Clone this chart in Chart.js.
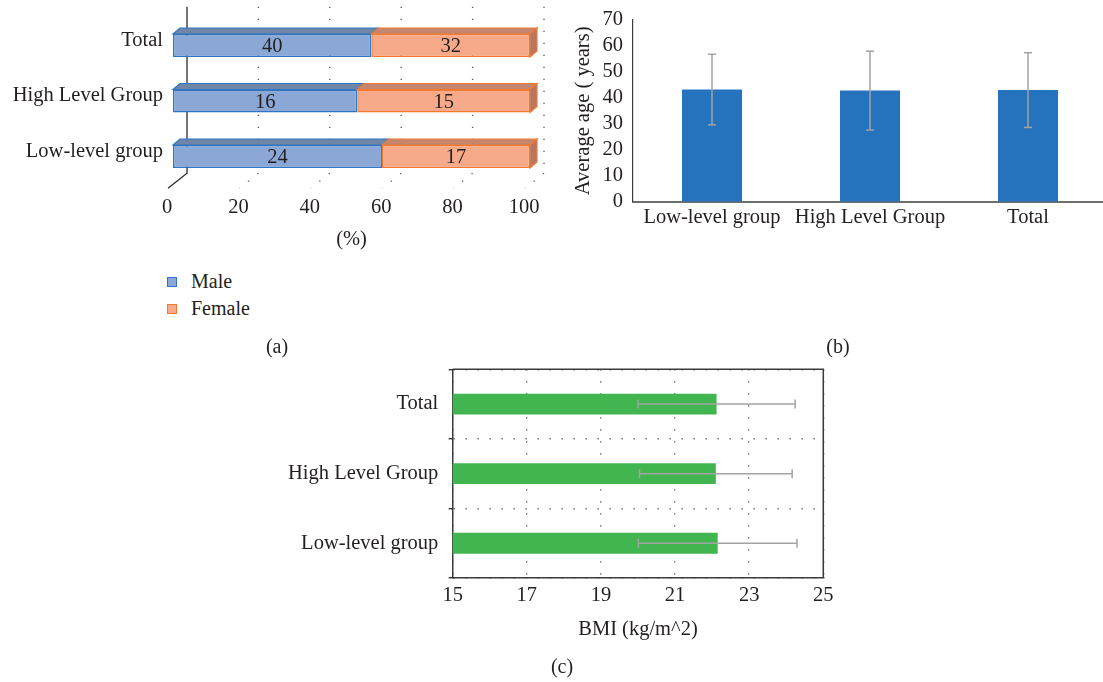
<!DOCTYPE html>
<html>
<head>
<meta charset="utf-8">
<script src="https://cdn.jsdelivr.net/npm/chart.js@4/dist/chart.umd.min.js"></script>
<style>
  html, body { margin: 0; padding: 0; background: #fff; overflow: hidden; width: 1103px; height: 682px; }
  body { position: relative; font-family: "Liberation Serif", serif; color: #231f20; }
  canvas { position: absolute; }
  .txt { position: absolute; font-size: 20px; line-height: 20px; white-space: nowrap; }
  .mid { transform: translate(-50%, -50%); }
  .key { position: absolute; width: 10px; height: 10px; box-sizing: border-box; border: 1.5px solid; }
</style>
</head>
<body>
<canvas id="chartSex" width="560" height="262" style="left:0;top:-10px"></canvas>
<canvas id="chartAge" width="560" height="250" style="left:560px;top:-10px"></canvas>
<canvas id="chartBmi" width="580" height="320" style="left:270px;top:340px"></canvas>

<div class="key" style="left:167px;top:277px;background:#8aa7d6;border-color:#2f75c5"></div>
<div class="txt" style="left:191px;top:271px">Male</div>
<div class="key" style="left:167px;top:304px;background:#f6aa89;border-color:#f37a2f"></div>
<div class="txt" style="left:191px;top:298px">Female</div>

<div class="txt mid" style="left:277px;top:346px">(a)</div>
<div class="txt mid" style="left:838px;top:346px">(b)</div>
<div class="txt mid" style="left:562px;top:666px">(c)</div>

<script>
// ---- data ----
const groupLabels = ['Total', 'High Level Group', 'Low-level group'];
const maleCounts = [40, 16, 24];
const femaleCounts = [32, 15, 17];
const shareTicks = [0, 20, 40, 60, 80, 100];

const ageLabels = ['Low-level group', 'High Level Group', 'Total'];
const ageMean = [43.2, 42.8, 43.0];
const ageSD = [13.6, 15.2, 14.4];

const bmiLabels = ['Total', 'High Level Group', 'Low-level group'];
const bmiMean = [22.12, 22.10, 22.15];
const bmiSD = [2.12, 2.06, 2.14];
const bmiTicks = [15, 17, 19, 21, 23, 25];

// share of each sex within a group, in percent
const maleShare = maleCounts.map((m, i) => m / (m + femaleCounts[i]) * 100);
const femaleShare = femaleCounts.map((f, i) => f / (maleCounts[i] + f) * 100);

// ---- shared styling ----
const serif = '"Liberation Serif", serif';
const ink = '#231f20';
const font20 = { family: serif, size: 20.5 };
const dotted = [1.3, 10.7];
const errColor = '#a3a3a3';

function stroke(ctx, pts) {
  ctx.beginPath();
  ctx.moveTo(pts[0][0], pts[0][1]);
  for (let i = 1; i < pts.length; i++) ctx.lineTo(pts[i][0], pts[i][1]);
  ctx.stroke();
}
function polygon(ctx, pts, fill, line) {
  ctx.beginPath();
  ctx.moveTo(pts[0][0], pts[0][1]);
  for (let i = 1; i < pts.length; i++) ctx.lineTo(pts[i][0], pts[i][1]);
  ctx.closePath();
  ctx.fillStyle = fill; ctx.fill();
  ctx.strokeStyle = line; ctx.lineWidth = 1.2; ctx.stroke();
}

// ---- (a) sex composition, 3-D stacked bars ----
const DX = 7, DY = 6;      // depth of each bar
const WX = 14, WY = 11;    // depth of the back wall
const FX = -5, FY = 4;     // front edge of the floor

const wall3d = {
  id: 'wall3d',
  beforeDatasetsDraw(chart) {
    const { ctx, chartArea: { left, top, bottom }, scales: { x } } = chart;
    ctx.save();
    ctx.strokeStyle = '#5f5f5f';
    ctx.lineWidth = 1.4;
    ctx.setLineDash(dotted);
    shareTicks.forEach(v => {
      if (v === 0) return;
      const px = x.getPixelForValue(v);
      stroke(ctx, [[px + WX, top - WY], [px + WX, bottom - WY]]);
      stroke(ctx, [[px + WX, bottom - WY], [px + FX, bottom + FY]]);
    });
    ctx.setLineDash([]);
    ctx.strokeStyle = '#2b2b2b';
    ctx.lineWidth = 1.3;
    stroke(ctx, [[left + WX, top - WY], [left + WX, bottom - WY], [left + FX, bottom + FY]]);
    ctx.restore();
  }
};

const faces3d = {
  id: 'faces3d',
  afterDatasetsDraw(chart) {
    const { ctx } = chart;
    const last = chart.data.datasets.length - 1;
    ctx.save();
    chart.data.datasets.forEach((ds, di) => {
      chart.getDatasetMeta(di).data.forEach((bar, i) => {
        const { x, y, base, height } = bar.getProps(['x', 'y', 'base', 'height'], true);
        const t = y - height / 2, b = y + height / 2;
        polygon(ctx, [[base, t], [base + DX, t - DY], [x + DX, t - DY], [x, t]], ds.topColor, ds.borderColor);
        if (di === last) {
          polygon(ctx, [[x, t], [x + DX, t - DY], [x + DX, b - DY], [x, b]], ds.sideColor, ds.borderColor);
        }
        ctx.fillStyle = ink;
        ctx.font = '20.5px ' + serif;
        ctx.textAlign = 'center';
        ctx.textBaseline = 'middle';
        ctx.fillText(String(ds.counts[i]), (base + x) / 2, y + 1.5);
      });
    });
    ctx.restore();
  }
};

new Chart(document.getElementById('chartSex'), {
  type: 'bar',
  data: {
    labels: groupLabels,
    datasets: [
      { label: 'Male', data: maleShare, counts: maleCounts,
        backgroundColor: '#8aa7d6', borderColor: '#2f75c5', borderWidth: 1.5, borderSkipped: false,
        topColor: '#6f86a6', sideColor: '#5f7596' },
      { label: 'Female', data: femaleShare, counts: femaleCounts,
        backgroundColor: '#f6aa89', borderColor: '#f37a2f', borderWidth: 1.5, borderSkipped: false,
        topColor: '#c4866f', sideColor: '#b07866' }
    ]
  },
  options: {
    responsive: false,
    animation: false,
    indexAxis: 'y',
    layout: { padding: { top: 27.75, right: 30, left: 0, bottom: 0 } },
    datasets: { bar: { categoryPercentage: 1, barPercentage: 0.414 } },
    plugins: { legend: { display: false }, tooltip: { enabled: false } },
    scales: {
      x: {
        stacked: true, min: 0, max: 100,
        afterBuildTicks: s => { s.ticks = shareTicks.map(v => ({ value: v })); },
        grid: { display: false, drawTicks: false },
        border: { display: false },
        ticks: { padding: 10.75, labelOffset: -6, font: font20, color: ink, maxRotation: 0 },
        title: { display: true, text: '(%)', font: font20, color: ink, padding: { top: 0, bottom: 0 } },
        afterFit: s => { s.height = 67.75; }
      },
      y: {
        stacked: true,
        grid: { display: false, drawTicks: false },
        border: { display: false },
        ticks: { padding: 10, labelOffset: -5, font: font20, color: ink },
        afterFit: s => { s.width = 173; }
      }
    }
  },
  plugins: [wall3d, faces3d]
});

// ---- (b) average age with standard deviation ----
const ageErrors = {
  id: 'ageErrors',
  afterDatasetsDraw(chart) {
    const { ctx, scales: { y } } = chart;
    ctx.save();
    ctx.strokeStyle = errColor;
    ctx.lineWidth = 1.5;
    chart.getDatasetMeta(0).data.forEach((bar, i) => {
      const hi = y.getPixelForValue(ageMean[i] + ageSD[i]);
      const lo = y.getPixelForValue(ageMean[i] - ageSD[i]);
      stroke(ctx, [[bar.x, hi], [bar.x, lo]]);
      stroke(ctx, [[bar.x - 4, hi], [bar.x + 4, hi]]);
      stroke(ctx, [[bar.x - 4, lo], [bar.x + 4, lo]]);
    });
    ctx.restore();
  }
};

new Chart(document.getElementById('chartAge'), {
  type: 'bar',
  data: {
    labels: ageLabels,
    datasets: [{ data: ageMean, backgroundColor: '#2572bd', categoryPercentage: 1, barPercentage: 0.38 }]
  },
  options: {
    responsive: false,
    animation: false,
    layout: { padding: { top: 30, right: 13, left: 0, bottom: 0 } },
    plugins: { legend: { display: false }, tooltip: { enabled: false } },
    scales: {
      x: {
        grid: { display: false, drawTicks: false },
        border: { color: '#6e6e6e', width: 2 },
        ticks: { padding: 4, font: font20, color: ink, maxRotation: 0, autoSkip: false },
        afterFit: s => { s.height = 38.3; }
      },
      y: {
        min: 0, max: 70,
        grid: { display: false, drawTicks: false },
        border: { color: '#3c3c3c', width: 1.2 },
        ticks: { stepSize: 10, padding: 10, font: font20, color: ink, autoSkip: false },
        title: { display: true, text: 'Average age ( years)', font: font20, color: ink,
                 padding: { top: 11.5, bottom: 11.5 } },
        afterFit: s => { s.width = 73; }
      }
    }
  },
  plugins: [ageErrors]
});

// ---- (c) BMI with standard deviation ----
const bmiErrors = {
  id: 'bmiErrors',
  afterDatasetsDraw(chart) {
    const { ctx, scales: { x } } = chart;
    ctx.save();
    ctx.strokeStyle = errColor;
    ctx.lineWidth = 1.5;
    chart.getDatasetMeta(0).data.forEach((bar, i) => {
      const hi = x.getPixelForValue(bmiMean[i] + bmiSD[i]);
      const lo = x.getPixelForValue(bmiMean[i] - bmiSD[i]);
      stroke(ctx, [[lo, bar.y], [hi, bar.y]]);
      stroke(ctx, [[lo, bar.y - 4.5], [lo, bar.y + 4.5]]);
      stroke(ctx, [[hi, bar.y - 4.5], [hi, bar.y + 4.5]]);
    });
    ctx.restore();
  }
};

const frame = {
  id: 'frame',
  afterDraw(chart) {
    const { ctx, chartArea: { left, right, top, bottom } } = chart;
    ctx.save();
    ctx.strokeStyle = '#3a3a3a';
    ctx.lineWidth = 1.5;
    stroke(ctx, [[left, top], [right, top], [right, bottom]]);
    ctx.restore();
  }
};

new Chart(document.getElementById('chartBmi'), {
  type: 'bar',
  data: {
    labels: bmiLabels,
    datasets: [{ data: bmiMean, backgroundColor: '#41b650', categoryPercentage: 1, barPercentage: 0.30 }]
  },
  options: {
    responsive: false,
    animation: false,
    indexAxis: 'y',
    layout: { padding: { top: 29.3, right: 26.7, left: 0, bottom: 0 } },
    plugins: { legend: { display: false }, tooltip: { enabled: false } },
    scales: {
      x: {
        min: 15, max: 25,
        afterBuildTicks: s => { s.ticks = bmiTicks.map(v => ({ value: v })); },
        grid: { color: '#5f5f5f', lineWidth: 1.4, drawTicks: false },
        border: { color: '#3a3a3a', width: 1.5, dash: dotted },
        ticks: { padding: 5, font: font20, color: ink, maxRotation: 0 },
        title: { display: true, text: 'BMI (kg/m^2)', font: font20, color: ink,
                 padding: { top: 18, bottom: 18 } },
        afterFit: s => { s.height = 82; }
      },
      y: {
        grid: { color: '#5f5f5f', lineWidth: 1.4, drawTicks: true, tickLength: 4,
                tickColor: '#3a3a3a', tickWidth: 1.5, tickBorderDash: [] },
        border: { color: '#3a3a3a', width: 1.5, dash: dotted },
        ticks: { padding: 10.4, font: font20, color: ink },
        afterFit: s => { s.width = 182.7; }
      }
    }
  },
  plugins: [bmiErrors, frame]
});
</script>
</body>
</html>
